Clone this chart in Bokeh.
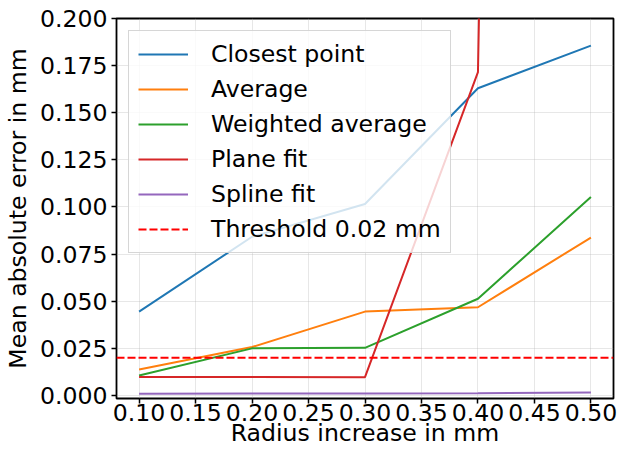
from bokeh.plotting import figure
from bokeh.models import Range1d, FixedTicker, NumeralTickFormatter, Legend, LegendItem
from bokeh.embed import file_html
from bokeh.resources import INLINE

# ---- data ----
radius = [0.10, 0.20, 0.30, 0.40, 0.50]
closest_point = [0.0445, 0.0842, 0.1016, 0.1630, 0.1856]
average = [0.0138, 0.0257, 0.0445, 0.0468, 0.0838]
weighted_average = [0.0106, 0.0250, 0.0253, 0.0513, 0.1053]
plane_fit = [0.0098, 0.0098, 0.0097, 0.1715, 3.4]
spline_fit = [0.0009, 0.0010, 0.0011, 0.0012, 0.0016]
threshold = 0.02
x_lim = [0.08, 0.52]
y_lim = [-0.0016, 0.2]
x_ticks = [0.10, 0.15, 0.20, 0.25, 0.30, 0.35, 0.40, 0.45, 0.50]
y_ticks = [0.0, 0.025, 0.05, 0.075, 0.1, 0.125, 0.15, 0.175, 0.2]

series = [
    ("Closest point", closest_point, "#1f77b4"),
    ("Average", average, "#ff7f0e"),
    ("Weighted average", weighted_average, "#2ca02c"),
    ("Plane fit", plane_fit, "#d62728"),
    ("Spline fit", spline_fit, "#9467bd"),
]

FONT = "DejaVu Sans"
FS = "23.6px"

p = figure(width=617, height=449, output_backend="svg", toolbar_location=None,
           x_range=Range1d(*x_lim), y_range=Range1d(*y_lim),
           min_border_top=18, min_border_right=4, min_border_left=0, min_border_bottom=0)
p.background_fill_color = "white"
p.border_fill_color = "white"
p.outline_line_color = "black"
p.outline_line_width = 1.8

items = []
for name, vals, col in series:
    r = p.line(radius, vals, line_color=col, line_width=2)
    items.append(LegendItem(label=name, renderers=[r]))

thr = p.line(x_lim, [threshold, threshold], line_color="#ff0000",
             line_width=2, line_dash="8 3")
items.append(LegendItem(label="Threshold 0.02 mm", renderers=[thr]))

legend = Legend(items=items, location="top_left")
legend.margin = 12
legend.padding = 9
legend.spacing = 7
legend.glyph_width = 50
legend.glyph_height = 28
legend.label_height = 28
legend.label_standoff = 23
legend.label_text_font = FONT
legend.label_text_font_size = FS
legend.label_text_color = "black"
legend.label_text_baseline = "middle"
legend.border_line_color = "#cccccc"
legend.border_line_alpha = 0.8
legend.border_line_width = 1
legend.background_fill_color = "white"
legend.background_fill_alpha = 0.8
p.add_layout(legend)

for ax in (p.xaxis[0], p.yaxis[0]):
    ax.axis_line_color = None
    ax.major_tick_line_color = "black"
    ax.major_tick_line_width = 1.5
    ax.major_tick_in = 0
    ax.major_tick_out = 5
    ax.minor_tick_line_color = None
    ax.major_label_text_font = FONT
    ax.major_label_text_font_size = FS
    ax.major_label_text_color = "black"
    ax.axis_label_text_font = FONT
    ax.axis_label_text_font_size = FS
    ax.axis_label_text_font_style = "normal"
    ax.axis_label_text_color = "black"

p.xaxis[0].ticker = FixedTicker(ticks=x_ticks)
p.xaxis[0].formatter = NumeralTickFormatter(format="0.00")
p.xaxis[0].axis_label = "Radius increase in mm"
p.xaxis[0].major_label_standoff = 0
p.xaxis[0].axis_label_standoff = -5

p.yaxis[0].ticker = FixedTicker(ticks=y_ticks)
p.yaxis[0].formatter = NumeralTickFormatter(format="0.000")
p.yaxis[0].axis_label = "Mean absolute error in mm"
p.yaxis[0].major_label_standoff = 4
p.yaxis[0].axis_label_standoff = 5

p.xgrid[0].ticker = FixedTicker(ticks=x_ticks)
p.ygrid[0].ticker = FixedTicker(ticks=y_ticks)
for g in (p.xgrid[0], p.ygrid[0]):
    g.grid_line_color = "#b0b0b0"
    g.grid_line_alpha = 0.3
    g.grid_line_width = 1

open("out.html", "w").write(file_html(p, INLINE))
